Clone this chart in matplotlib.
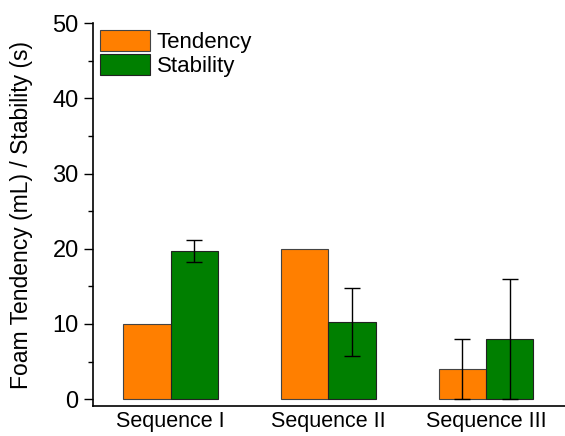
import matplotlib.pyplot as plt
import numpy as np

plt.rcParams['font.family'] = ['Liberation Sans', 'DejaVu Sans']

sequences = ['Sequence I', 'Sequence II', 'Sequence III']
tendency = [10, 20, 4]
tendency_err = [0, 0, 4]
stability = [19.7, 10.3, 8]
stability_err = [1.45, 4.5, 8]

x = np.arange(1, len(sequences) + 1)
w = 0.3

fig = plt.figure(figsize=(5.65, 4.36), dpi=100)
ax = fig.add_axes([0.165, 0.069, 0.835, 0.878])

ax.bar(x - w / 2, tendency, w, color='#ff7f00', edgecolor='#444444', linewidth=0.8,
       label='Tendency')
ax.bar(x + w / 2, stability, w, color='#007f00', edgecolor='#222222', linewidth=0.8,
       label='Stability')

# only draw error bars where there is a spread
t_idx = [i for i, e in enumerate(tendency_err) if e > 0]
ax.errorbar(x[t_idx] - w / 2, np.array(tendency)[t_idx], yerr=np.array(tendency_err)[t_idx],
            fmt='none', ecolor='black', elinewidth=1, capsize=5.5, capthick=1)
ax.errorbar(x + w / 2, stability, yerr=stability_err,
            fmt='none', ecolor='black', elinewidth=1, capsize=5.5, capthick=1)

ax.set_xlim(0.51, 3.5)
ax.set_ylim(-0.9, 50)
ax.set_xticks(x)
ax.set_xticklabels(sequences, fontsize=15.5)
ax.set_yticks(np.arange(0, 51, 10))
ax.set_yticks(np.arange(5, 50, 10), minor=True)
ax.tick_params(axis='y', labelsize=17, length=6.5, width=1, direction='out', pad=4)
ax.tick_params(axis='y', which='minor', length=3.5, width=1)
ax.tick_params(axis='x', length=0, pad=4)
ax.set_ylabel('Foam Tendency (mL) / Stability (s)', fontsize=16.5, labelpad=14)

ax.spines['top'].set_visible(False)
ax.spines['right'].set_visible(False)
ax.spines['left'].set_linewidth(1.2)
ax.spines['bottom'].set_linewidth(1.2)

ax.legend(loc='upper left', frameon=False, fontsize=16, handlelength=2.25,
          handleheight=1.1, handletextpad=0.3, labelspacing=0.05,
          borderpad=0.3, borderaxespad=0.0, bbox_to_anchor=(0.0, 1.0))

fig.savefig('out.png', dpi=100)
